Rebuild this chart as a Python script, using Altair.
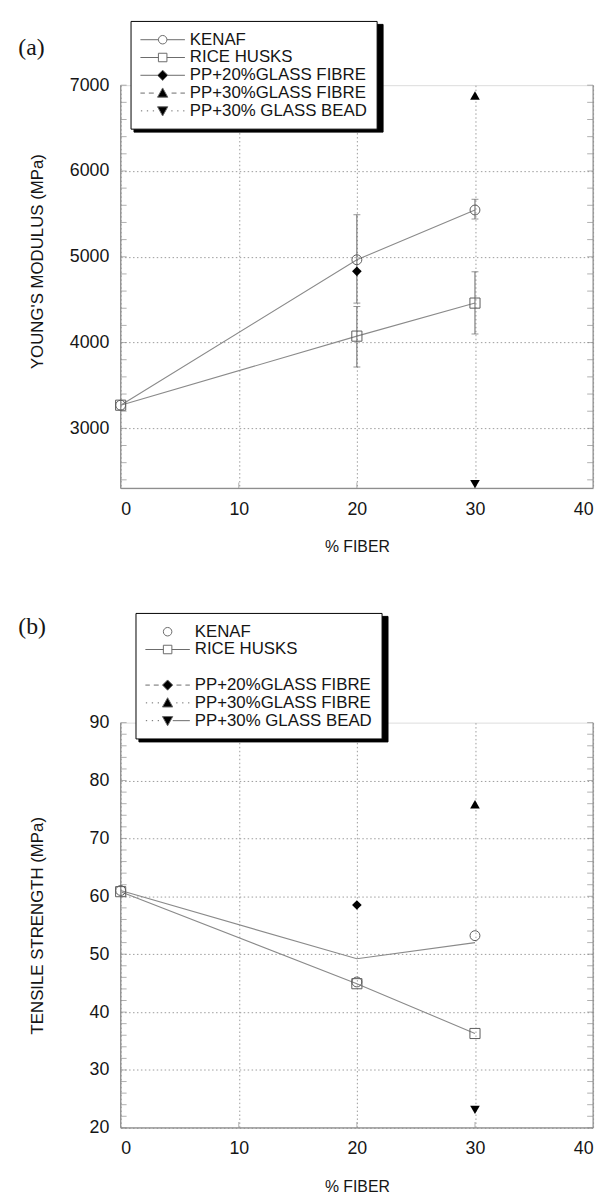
import altair as alt
import pandas as pd

# ---------------- data: panel (a) Young's modulus ----------------
fiber = [0, 20, 30]
kenaf_E = [3270, 4965, 5545]
rice_E = [3270, 4075, 4460]
err_fiber = [20, 30]
kenaf_E_lo = [4460, 5440]
kenaf_E_hi = [5490, 5670]
rice_E_lo = [3715, 4100]
rice_E_hi = [4420, 4825]
glass_fiber = [20, 30, 30]
glass_E = [4830, 6880, 2350]

# ---------------- data: panel (b) tensile strength ----------------
kenaf_TS = [61.0, 45.2, 53.2]
kenaf_TS_line = [61.0, 49.2, 52.0]
rice_TS = [60.8, 44.9, 36.3]
glass_TS = [58.5, 75.9, 23.1]

glass_names = ["PP+20%GLASS FIBRE", "PP+30%GLASS FIBRE", "PP+30% GLASS BEAD"]
legend_a = ["KENAF", "RICE HUSKS"] + glass_names
legend_b = ["KENAF", "RICE HUSKS", " "] + glass_names

x_ticks = [0, 10, 20, 30, 40]
E_domain = [2300, 7000]
E_ticks = [3000, 4000, 5000, 6000, 7000]
E_minor = list(range(2400, 7001, 200))
TS_domain = [20, 90]
TS_ticks = [20, 30, 40, 50, 60, 70, 80, 90]
TS_minor = list(range(20, 91, 2))

# ---------------- styling ----------------
FONT = "Liberation Sans"
TEXT = "#151515"
LINE = "#8a8a8a"
MARK = "#5c5c5c"
AXIS = "#8e8e8e"
GRID = "#9c9c9c"
LEG_STROKE = "#6a6a6a"
W = 478
TICK_FS = 18
LEG_FS = 17
LABEL_OFF = 31.5
WIDEST_EM = 10.533  # width of "PP+30% GLASS BEAD" in em

# legend symbol paths (symbol size 324 -> 18px box, 1 unit = 9px)
SYM_SIZE = 324
U = 9.0
L0, L1, MC = -9.0, 36.0, 13.5


def f(v):
    return f"{v / U:.3f}"


def hseg(a, b):
    return f"M{f(a)},0H{f(b)}"


def circ(r=4.3):
    return (f"M{f(MC - r)},0A{f(r)},{f(r)} 0 1,1 {f(MC + r)},0"
            f"A{f(r)},{f(r)} 0 1,1 {f(MC - r)},0Z")


def sq(h=4.3):
    return f"M{f(MC - h)},{f(-h)}H{f(MC + h)}V{f(h)}H{f(MC - h)}Z"


def dia(h=5.2):
    return f"M{f(MC)},{f(-h)}L{f(MC + h)},0L{f(MC)},{f(h)}L{f(MC - h)},0Z"


def tri_up(h=5.2):
    return f"M{f(MC)},{f(-h)}L{f(MC + h)},{f(0.8 * h)}L{f(MC - h)},{f(0.8 * h)}Z"


def tri_dn(h=5.2):
    return f"M{f(MC)},{f(h)}L{f(MC + h)},{f(-0.8 * h)}L{f(MC - h)},{f(-0.8 * h)}Z"


def solid_l(g):
    return hseg(L0, MC - g)


def solid_r(g):
    return hseg(MC + g, L1)


def dash_l():
    return hseg(-9, -4.5) + hseg(-0.5, 4.5)


def dash_r():
    return hseg(22.5, 27.5) + hseg(31.5, 36)


def dot_l():
    return hseg(-8.5, -7.2) + hseg(-2.5, -1.2) + hseg(3.5, 4.8)


def dot_r():
    return hseg(22.2, 23.5) + hseg(28.2, 29.5) + hseg(34.2, 35.5)


paths_a = [
    solid_l(4.3) + solid_r(4.3) + circ(),
    solid_l(4.3) + solid_r(4.3) + sq(),
    solid_l(5.2) + solid_r(5.2) + dia(),
    dash_l() + dash_r() + tri_up(),
    dot_l() + dot_r() + tri_dn(),
]
fills_a = ["transparent", "transparent", "black", "black", "black"]
paths_b = [
    circ(),
    solid_l(4.3) + solid_r(4.3) + sq(),
    "M0,0",
    dash_l() + dash_r() + dia(),
    dot_l() + dot_r() + tri_up(),
    dot_l() + solid_r(5.2) + tri_dn(),
]
fills_b = ["transparent", "transparent", "transparent", "black", "black", "black"]

# shadow legend: one long bar per row, as wide as the visible legend's content
SHADOW_RIGHT = 19 + LABEL_OFF + WIDEST_EM * LEG_FS - 9
SHADOW_PATH = hseg(L0, SHADOW_RIGHT)


def make_legend(lx, ly, shadow):
    kw = dict(
        title=None, orient="none",
        legendX=lx + (3 if shadow else 0), legendY=ly + (3 if shadow else 0),
        padding=9.5, rowPadding=0, symbolSize=SYM_SIZE, symbolStrokeWidth=1,
        labelFont=FONT, labelFontSize=LEG_FS,
        labelOffset=LABEL_OFF, labelLimit=500,
        labelColor="black" if shadow else TEXT,
        fillColor="black" if shadow else "white", strokeColor="black",
        symbolStrokeColor="black" if shadow else LEG_STROKE,
        zindex=0 if shadow else 1,
    )
    if shadow:
        kw["labelExpr"] = "''"
        kw["symbolFillColor"] = "black"
    return alt.Legend(**kw)


def panel(tag, ytitle, ydomain, yticks, yminor, ytitle_pad, ytitle_y, H,
          kenaf_pts, kenaf_line, rice_vals, errs, glass_vals,
          labels, paths, fills, lx, ly, tdx, tdy):
    xs = alt.Scale(domain=[0, 40], nice=False, zero=False)
    ys = alt.Scale(domain=ydomain, nice=False, zero=False)
    xax = alt.Axis(values=x_ticks, title="% FIBER", grid=True, gridDash=[1.5, 2.5],
                   gridColor=GRID, domain=False, ticks=False, labelFont=FONT,
                   labelFontSize=TICK_FS, labelColor=TEXT, labelPadding=12,
                   titleFont=FONT, titleFontSize=16, titleFontWeight="normal",
                   titleColor=TEXT, titlePadding=21)
    yax = alt.Axis(values=yticks, format="d", title=ytitle, grid=True, gridDash=[1.5, 2.5],
                   gridColor=GRID,
                   gridOpacity={"condition": {"test": f"datum.value == {ydomain[1]}",
                                              "value": 0}, "value": 1},
                   domain=False, ticks=False, labelFont=FONT, labelFontSize=TICK_FS,
                   labelColor=TEXT, labelPadding=12, titleFont=FONT,
                   titleFontSize=17, titleFontWeight="normal", titleColor=TEXT,
                   titlePadding=ytitle_pad, titleY=ytitle_y)
    X = alt.X("x:Q", scale=xs, axis=xax)
    Y = alt.Y("y:Q", scale=ys, axis=yax)

    lo, hi = ydomain
    frame = pd.DataFrame({"x": [0, 40, 0], "x2": [0, 40, 40],
                          "y": [lo, lo, lo], "y2": [hi, hi, lo]})
    frame_l = alt.Chart(frame).mark_rule(color=AXIS, strokeWidth=1.2).encode(
        x=X, y=Y, x2="x2:Q", y2="y2:Q")

    tl = pd.DataFrame({"x": [0] * len(yminor), "y": yminor})
    tr = pd.DataFrame({"x": [40] * len(yminor), "y": yminor})
    tb = pd.DataFrame({"x": [10, 20, 30], "y": [lo] * 3})
    ticks_l = alt.Chart(tl).mark_tick(orient="horizontal", size=6, thickness=1,
                                      color=AXIS, xOffset=3).encode(x=X, y=Y)
    ticks_r = alt.Chart(tr).mark_tick(orient="horizontal", size=6, thickness=1,
                                      color=AXIS, xOffset=-3).encode(x=X, y=Y)
    ticks_b = alt.Chart(tb).mark_tick(orient="vertical", size=6, thickness=1,
                                      color=AXIS, yOffset=-3).encode(x=X, y=Y)

    kl = pd.DataFrame({"x": fiber, "y": kenaf_line})
    rl = pd.DataFrame({"x": fiber, "y": rice_vals})
    line_k = alt.Chart(kl).mark_line(color=LINE, strokeWidth=1.1).encode(x=X, y=Y, order="x:Q")
    line_r = alt.Chart(rl).mark_line(color=LINE, strokeWidth=1.1).encode(x=X, y=Y, order="x:Q")

    layers = [frame_l, ticks_l, ticks_r, ticks_b, line_k, line_r]

    if errs is not None:
        ex, klo, khi, rlo, rhi = errs
        ed = pd.DataFrame({"x": ex + ex, "y": klo + rlo, "y2": khi + rhi})
        caps = pd.DataFrame({"x": ex * 4, "y": klo + khi + rlo + rhi})
        layers.append(alt.Chart(ed).mark_rule(color="#666666", strokeWidth=1).encode(
            x=X, y=Y, y2="y2:Q"))
        layers.append(alt.Chart(caps).mark_tick(orient="horizontal", size=7, thickness=1,
                                                color="#666666").encode(x=X, y=Y))

    kp = pd.DataFrame({"x": fiber, "y": kenaf_pts})
    rp = pd.DataFrame({"x": fiber, "y": rice_vals})
    layers.append(alt.Chart(rp).mark_point(shape="square", filled=False, color=MARK,
                                           size=105, strokeWidth=1, opacity=1).encode(x=X, y=Y))
    layers.append(alt.Chart(kp).mark_point(shape="circle", filled=False, color=MARK,
                                           size=100, strokeWidth=1, opacity=1).encode(x=X, y=Y))
    for shp, gx, gy in zip(["diamond", "triangle-up", "triangle-down"], glass_fiber, glass_vals):
        gp = pd.DataFrame({"x": [gx], "y": [gy]})
        layers.append(alt.Chart(gp).mark_point(shape=shp, filled=True, color="black",
                                               size=95, opacity=1).encode(x=X, y=Y))

    ld = pd.DataFrame({"series": labels, "shadow": ["~" + s for s in labels]})
    shadow_dom = ["~" + s for s in labels]
    n = len(labels)
    sh_leg = make_legend(lx, ly, True)
    leg_shadow = alt.Chart(ld).transform_filter("false").mark_point(
        filled=False, color="black", size=SYM_SIZE, strokeWidth=1, opacity=1).encode(
        shape=alt.Shape("shadow:N", scale=alt.Scale(domain=shadow_dom, range=[SHADOW_PATH] * n),
                        legend=sh_leg),
        stroke=alt.Stroke("shadow:N", scale=alt.Scale(domain=shadow_dom, range=["black"] * n),
                          legend=sh_leg))
    main_leg = make_legend(lx, ly, False)
    leg_main = alt.Chart(ld).transform_filter("false").mark_point(
        filled=False, color=LEG_STROKE, size=SYM_SIZE, strokeWidth=1, opacity=1).encode(
        shape=alt.Shape("series:N", scale=alt.Scale(domain=labels, range=paths),
                        legend=main_leg),
        fill=alt.Fill("series:N", scale=alt.Scale(domain=labels, range=fills),
                      legend=main_leg),
        stroke=alt.Stroke("series:N", scale=alt.Scale(domain=labels, range=[LEG_STROKE] * n),
                          legend=main_leg))
    layers += [leg_shadow, leg_main]

    return alt.layer(*layers).resolve_scale(
        shape="independent", fill="independent", stroke="independent").properties(
        width=W, height=H,
        title=alt.TitleParams(tag, anchor="start", frame="bounds", font="Liberation Serif",
                              fontSize=24, fontWeight="normal", color=TEXT, dx=tdx, dy=tdy))


pa = panel("(a)", "YOUNG'S MODULUS (MPa)", E_domain, E_ticks, E_minor, 23, 178, 408,
           kenaf_E, kenaf_E, rice_E,
           (err_fiber, kenaf_E_lo, kenaf_E_hi, rice_E_lo, rice_E_hi), glass_E,
           legend_a, paths_a, fills_a, 10, -65, -10.5, 44)
pb = panel("(b)", "TENSILE STRENGTH (MPa)", TS_domain, TS_ticks, TS_minor, 43, 205, 410,
           kenaf_TS, kenaf_TS_line, rice_TS, None, glass_TS,
           legend_b, paths_b, fills_b, 15, -111, -10.5, 31)

chart = alt.vconcat(pa, pb, spacing=57).configure_view(stroke=None).configure(
    background="white", padding={"left": 9, "top": 5, "right": 5, "bottom": 5})

chart.save("out.html", embed_options={"renderer": "svg", "actions": False})
